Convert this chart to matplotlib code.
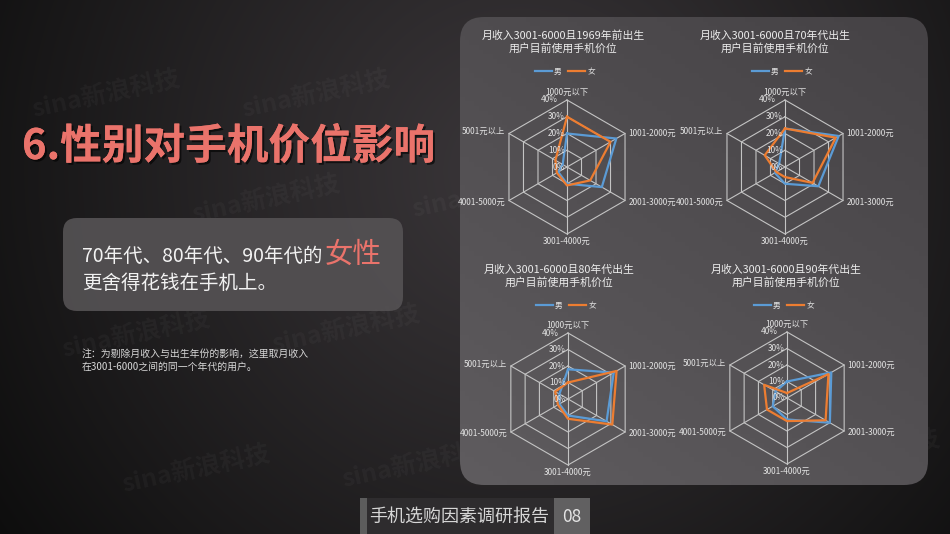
import numpy as np
import matplotlib.pyplot as plt
import matplotlib.patheffects as pe
from matplotlib.patches import FancyBboxPatch, Rectangle

plt.rcParams['font.family'] = ['Noto Sans CJK SC', 'DejaVu Sans']

# data (% of users)
categories = ['1000元以下', '1001-2000元', '2001-3000元', '3001-4000元', '4001-5000元', '5001元以上']
r_ticks = [0, 10, 20, 30, 40]
r_labels = ['0%', '10%', '20%', '30%', '40%']
series_names = ['男', '女']

chart_titles = [
    '月收入3001-6000且1969年前出生\n用户目前使用手机价位',
    '月收入3001-6000且70年代出生\n用户目前使用手机价位',
    '月收入3001-6000且80年代出生\n用户目前使用手机价位',
    '月收入3001-6000且90年代出生\n用户目前使用手机价位',
]
male_1969 = [20, 34, 24, 10, 6, 3]
female_1969 = [30, 30, 16, 11, 7, 8]
male_70s = [23, 37, 23, 10, 7, 4]
female_70s = [23, 35, 19, 6, 6, 14]
male_80s = [18, 32, 27, 10, 6, 6]
female_80s = [10, 34, 31, 12, 7, 9]
male_90s = [10, 31, 30, 13, 10, 8]
female_90s = [3, 29, 27, 14, 14, 16]
chart_data = [(male_1969, female_1969), (male_70s, female_70s),
              (male_80s, female_80s), (male_90s, female_90s)]

W, H = 950, 534
BLUE = '#5b9bd5'
ORANGE = '#ed7d31'
SALMON = '#ea736b'
GRID = '#c4c4c4'
TXT = '#e2e2e2'

fig = plt.figure(figsize=(W / 100, H / 100), dpi=100)

# full-slide axes in pixel units for background, boxes and text
bg = fig.add_axes([0, 0, 1, 1])
bg.set_xlim(0, W)
bg.set_ylim(H, 0)
bg.axis('off')

# dark radial background
yy, xx = np.mgrid[0:H, 0:W]
d = np.sqrt((xx - 520) ** 2 + (yy - 170) ** 2)
t = np.clip(d / 640, 0, 1) ** 1.1
c0 = np.array([0x3a, 0x36, 0x39]) / 255
c1 = np.array([0x0d, 0x0d, 0x0d]) / 255
img = c0 * (1 - t[..., None]) + c1 * t[..., None]
bg.imshow(img, extent=(0, W, H, 0), aspect='auto', zorder=0)

# faint watermarks
wm_pos = [(30, 95), (240, 95), (460, 90), (680, 90),
          (190, 200), (410, 195), (630, 195),
          (60, 335), (270, 330), (500, 325), (720, 325),
          (120, 470), (340, 465), (570, 460), (790, 455)]
for wx, wy in wm_pos:
    bg.text(wx, wy, 'sina新浪科技', color='#ffffff', alpha=0.035, fontsize=18,
            fontweight='bold', rotation=12, va='center', zorder=1)

# right panel with its own soft gradient
panel = FancyBboxPatch((460, 17), 468, 468, boxstyle='round,pad=0,rounding_size=24',
                       facecolor='none', edgecolor='none', zorder=2)
bg.add_patch(panel)
py, px = np.mgrid[0:100, 0:100]
g = np.clip((py / 99) * 0.6 + (1 - px / 99) * 0.4, 0, 1)
p0 = np.array([0x45, 0x42, 0x45]) / 255
p1 = np.array([0x5f, 0x5c, 0x5f]) / 255
pimg = p0 * (1 - g[..., None]) + p1 * g[..., None]
pim = bg.imshow(pimg, extent=(460, 928, 485, 17), aspect='auto', zorder=2)
pim.set_clip_path(panel)

# left message box
box = FancyBboxPatch((63, 218), 340, 93, boxstyle='round,pad=0,rounding_size=14',
                     facecolor='#535052', edgecolor='none', alpha=0.95, zorder=2)
bg.add_patch(box)

# main title
bg.text(22, 147, '6.性别对手机价位影响', color=SALMON, fontsize=30, fontweight='bold',
        va='center', ha='left', zorder=3,
        path_effects=[pe.withSimplePatchShadow(offset=(1.5, -1.5), shadow_rgbFace='black', alpha=0.6),
                      pe.Normal()])

t1 = bg.text(82, 262, '70年代、80年代、90年代的', color='#f2f2f2', fontsize=14,
             va='baseline', ha='left', zorder=3)
fig.canvas.draw()
bb = t1.get_window_extent()
x_end = bg.transData.inverted().transform((bb.x1, bb.y0))[0]
bg.text(x_end + 2, 263, '女性', color=SALMON, fontsize=20.5, va='baseline', ha='left', zorder=3)
bg.text(82, 289, '更舍得花钱在手机上。', color='#f2f2f2', fontsize=14,
        va='baseline', ha='left', zorder=3)

bg.text(82, 354, '注：为剔除月收入与出生年份的影响，这里取月收入', color='#d8d8d8',
        fontsize=7.1, va='center', ha='left', zorder=3)
bg.text(82, 367, '在3001-6000之间的同一个年代的用户。', color='#d8d8d8',
        fontsize=7.1, va='center', ha='left', zorder=3)

# footer
bg.add_patch(Rectangle((360, 498), 194, 40, facecolor='#2e2c2e', edgecolor='none', zorder=2))
bg.add_patch(Rectangle((360, 498), 7, 40, facecolor='#5c5c5c', edgecolor='none', zorder=3))
bg.add_patch(Rectangle((554, 498), 36, 40, facecolor='#616061', edgecolor='none', zorder=3))
bg.text(369, 517, '手机选购因素调研报告', color='#d6d6d6', fontsize=13,
        va='center', ha='left', zorder=4)
bg.text(572, 517, '08', color='#e4e4e4', fontsize=12.5, va='center', ha='center', zorder=4)

# radar charts: centre (px), radius (px), title centre x, title y, legend centre
layout = [
    ((567, 167), 67, 563, 42, (565, 72)),
    ((785, 167), 67, 775, 42, (782, 72)),
    ((568, 399), 66, 559, 276, (566, 306)),
    ((787, 398), 66, 786, 276, (784, 306)),
]

theta = np.linspace(0, 2 * np.pi, len(categories), endpoint=False)
closed = np.append(theta, theta[0])
label_off = [((0, 2), 'center', 'bottom'), ((2.5, 0), 'left', 'center'),
             ((2.5, -1), 'left', 'center'), ((0, -2), 'center', 'top'),
             ((-2.5, -1), 'right', 'center'), ((-2.5, 1.5), 'right', 'center')]

for (cxy, R, tx, ty, lxy), title, (male, female) in zip(layout, chart_titles, chart_data):
    cx, cy = cxy
    ax = fig.add_axes([(cx - R) / W, 1 - (cy + R) / H, 2 * R / W, 2 * R / H], projection='polar')
    ax.set_theta_offset(np.pi / 2)
    ax.set_theta_direction(-1)
    ax.set_ylim(0, r_ticks[-1])
    ax.patch.set_alpha(0)
    ax.spines['polar'].set_visible(False)
    ax.grid(False)
    ax.set_xticks([])
    ax.set_yticks([])

    for r in r_ticks[1:]:
        ax.plot(closed, [r] * len(closed), color=GRID, lw=0.8, clip_on=False)
    for th in theta:
        ax.plot([th, th], [0, r_ticks[-1]], color=GRID, lw=0.8, clip_on=False)

    ax.plot(closed, male + male[:1], color=BLUE, lw=1.6, label=series_names[0], clip_on=False)
    ax.plot(closed, female + female[:1], color=ORANGE, lw=1.6, label=series_names[1], clip_on=False)

    for th, cat, (off, ha, va) in zip(theta, categories, label_off):
        ax.annotate(cat, xy=(th, r_ticks[-1]), xytext=off, textcoords='offset points',
                    ha=ha, va=va, fontsize=6, color=TXT, annotation_clip=False)
    for r, lab in zip(r_ticks, r_labels):
        dx = -6.5 if r == r_ticks[-1] else -1.5
        ax.annotate(lab, xy=(0, r), xytext=(dx, 0), textcoords='offset points',
                    ha='right', va='center', fontsize=6, color=TXT, annotation_clip=False)

    bg.text(tx, ty, title, ha='center', va='center', fontsize=7.8, color='#ececec',
            linespacing=1.25, zorder=3)
    ax.legend(loc='center', bbox_to_anchor=(lxy[0] / W, 1 - lxy[1] / H),
              bbox_transform=fig.transFigure, ncol=2, frameon=False, fontsize=5.5,
              handlelength=2.2, handletextpad=0.3, columnspacing=0.9, labelcolor=TXT,
              borderpad=0)

fig.savefig('out.png', dpi=100)
